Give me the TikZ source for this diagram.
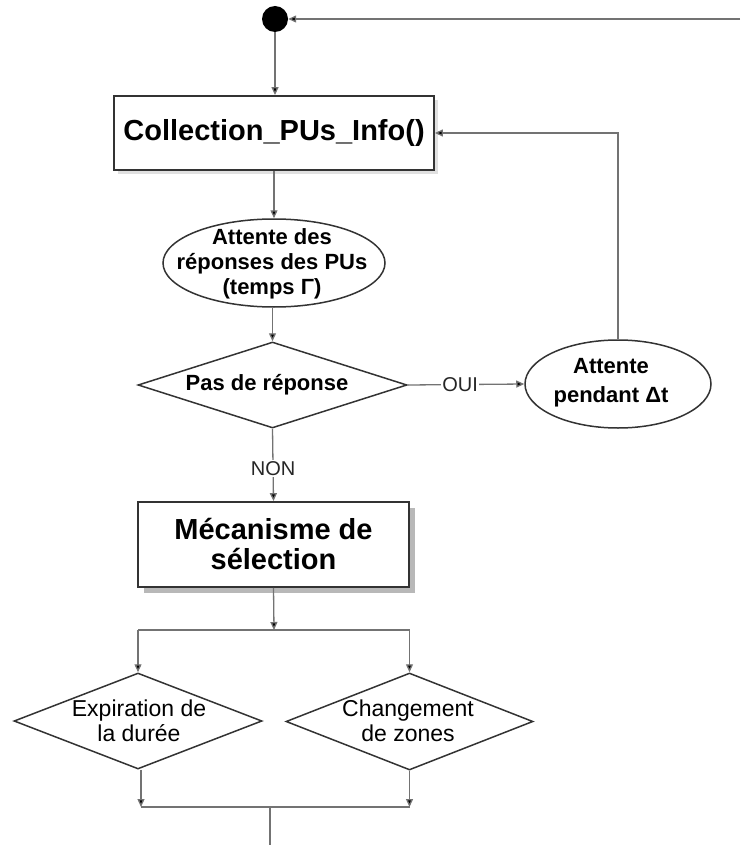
\documentclass[tikz,border=0pt]{standalone}
\usepackage{fontspec}
\setmainfont{Liberation Sans}
\usetikzlibrary{arrows.meta,shapes.geometric,shadows}
\begin{document}
\begin{tikzpicture}[x=1pt,y=-1pt,
  conn/.style={draw=black!55, line width=1.3pt},
  arr/.style={conn, -{Triangle[length=8pt,width=7pt,fill=black]}},
  boxnode/.style={draw=black!80, line width=1.8pt, fill=white, rectangle, inner sep=2pt},
  shadowA/.style={drop shadow={shadow xshift=4pt, shadow yshift=-4pt, fill=black!12, opacity=1}},
  shadowB/.style={drop shadow={shadow xshift=6pt, shadow yshift=-6pt, fill=black!28, opacity=1}},
  ellnode/.style={draw=black!80, line width=1.5pt, ellipse, inner sep=0pt},
  dianode/.style={draw=black!80, line width=1.5pt, diamond, inner sep=0pt},
  btext/.style={font=\bfseries\fontsize{22}{25}\selectfont, align=center, inner sep=0pt},
  rtext/.style={font=\fontsize{23}{25}\selectfont, align=center, inner sep=0pt},
  lab/.style={font=\fontsize{20}{22}\selectfont, fill=white, inner sep=1.5pt, text=black!85}
]
\useasboundingbox (0,0) rectangle (740,845);

% nodes
\node[circle, fill=black, minimum size=26pt, inner sep=0pt] (start) at (275,19) {};
\coordinate (tr) at (740,19);
\node[boxnode, shadowA, minimum width=320pt, minimum height=74pt,
  font=\bfseries\fontsize{29}{32}\selectfont] (c1) at (274,133) {Collection\_PUs\_Info()};
\node[ellnode, minimum width=222pt, minimum height=88pt] (e1) at (274,263) {};
\node[btext] (e1t) at (272,264) {Attente des\\réponses des PUs\\(temps Γ)};
\node[dianode, minimum width=269pt, minimum height=86pt] (d1) at (272.5,385) {};
\node[btext] (d1t) at (267,385) {Pas de réponse};
\node[ellnode, minimum width=186pt, minimum height=88pt] (e2) at (618,384) {};
\node[btext, font=\bfseries\fontsize{22}{29}\selectfont] (e2t) at (611,383) {Attente\\pendant Δt};
\node[boxnode, shadowB, minimum width=271pt, minimum height=85pt,
  font=\bfseries\fontsize{29}{30}\selectfont, align=center] (m) at (273.5,544.5) {Mécanisme de\\sélection};
\coordinate (j1) at (274,630);
\coordinate (jl) at (138,630);
\coordinate (jr) at (409.5,630);
\node[dianode, minimum width=248pt, minimum height=96pt] (d2) at (138,721) {};
\node[rtext] (d2t) at (139,720.5) {Expiration de\\la durée};
\node[dianode, minimum width=247pt, minimum height=97pt] (d3) at (409.5,721.5) {};
\node[rtext] (d3t) at (408,720.5) {Changement\\de zones};
\coordinate (bl) at (141,807);
\coordinate (br) at (409.5,807);
\coordinate (bm) at (270,807);
\coordinate (bend) at (270,845);
\coordinate (loopc) at (618,133);

% connectors
\draw[arr] (tr) -- (start);
\draw[arr] (start) -- (start |- c1.north);
\draw[arr] (c1.south) -- (e1.north);
\draw[arr] (e1.south -| d1.north) -- (d1.north);
\draw[arr] (d1.east) -- (e2.west) node[lab, pos=0.45] {OUI};
\draw[arr] (e2.north) -- (loopc) -- (c1.east);
\draw[arr] (d1.south) -- (m.north) node[lab, pos=0.55] {NON};
\draw[arr] (m.south) -- (j1);
\draw[conn] (jl) -- (jr);
\draw[arr] (jl) -- (d2.north);
\draw[arr] (jr) -- (d3.north);
\draw[arr] (d2.south -| bl) -- (bl);
\draw[arr] (d3.south) -- (br);
\draw[conn] (bl) -- (br);
\draw[conn] (bm) -- (bend);
\end{tikzpicture}
\end{document}
